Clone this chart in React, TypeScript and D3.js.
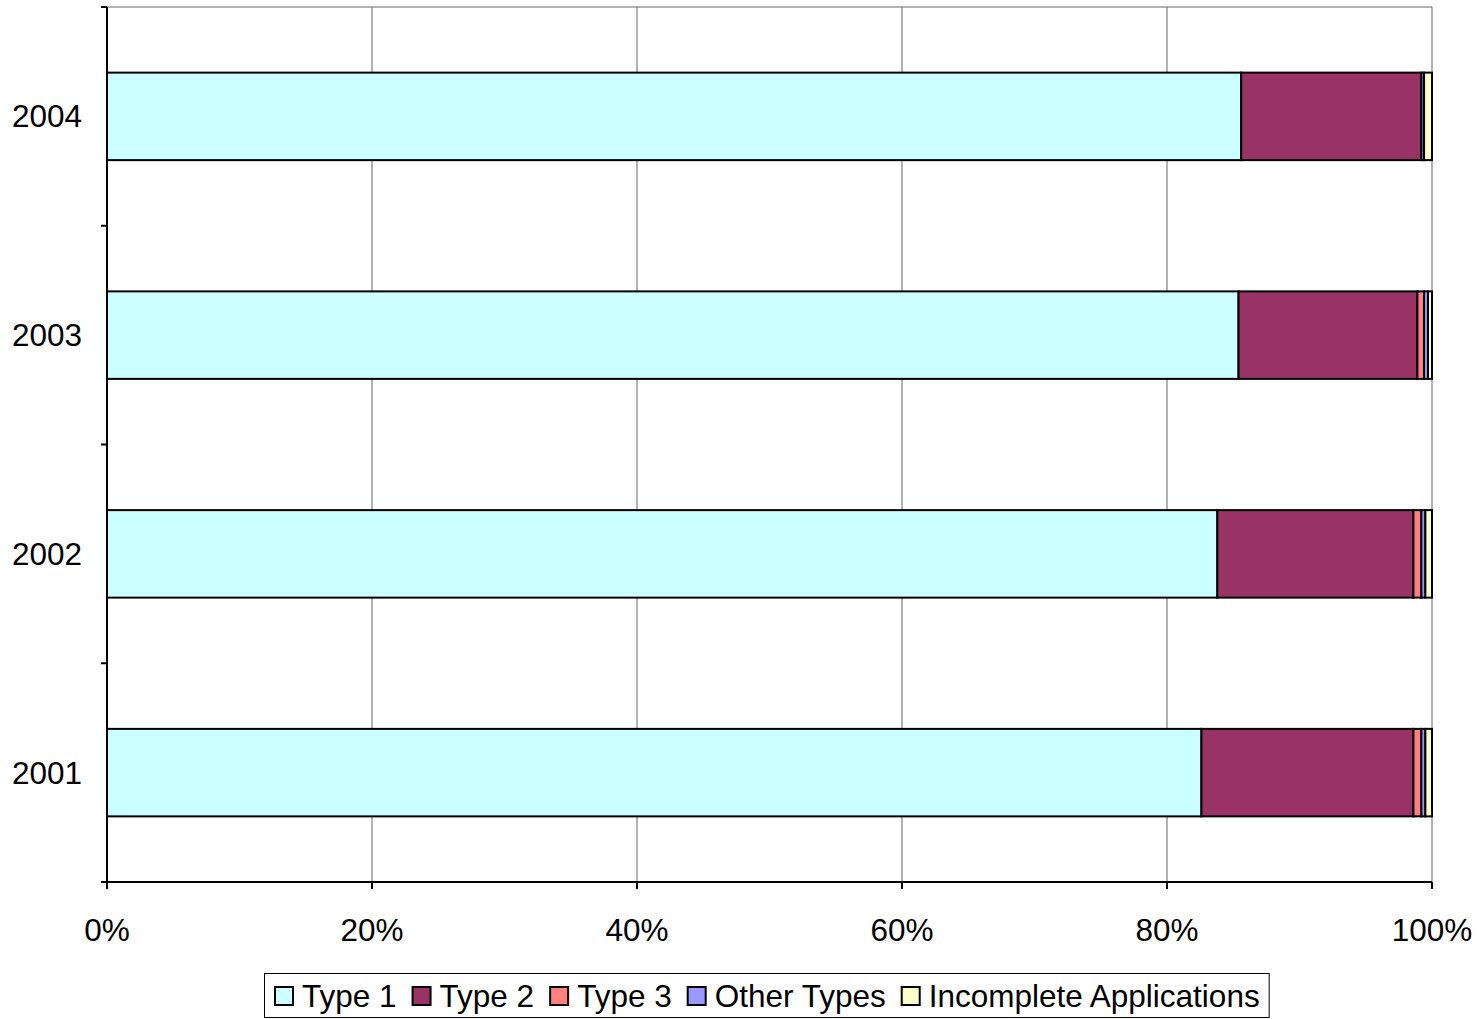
import React, { useEffect, useRef } from "react";
import * as d3 from "d3";

const years = ["2004", "2003", "2002", "2001"];
const seriesNames = ["Type 1", "Type 2", "Type 3", "Other Types", "Incomplete Applications"];
const seriesColors = ["#CCFFFF", "#993366", "#FF8080", "#9999FF", "#FFFFCC"];
const type1 = [85.6, 85.4, 83.8, 82.6];
const type2 = [13.6, 13.5, 14.8, 16.0];
const type3 = [0.0, 0.5, 0.6, 0.6];
const otherTypes = [0.2, 0.3, 0.3, 0.3];
const incomplete = [0.6, 0.3, 0.5, 0.5];
const xTicks = [0, 20, 40, 60, 80, 100];

const W = 1481, H = 1019;
const FONT = "Liberation Sans, Arial, sans-serif";
const FS = 31.5;

export default function App() {
  const ref = useRef<SVGSVGElement>(null);
  useEffect(() => {
    const svg = d3.select(ref.current);
    svg.selectAll("*").remove();
    const left = 107, right = 1432, top = 7, bottom = 882;
    const x = d3.scaleLinear().domain([0, 100]).range([left, right]);
    const y = d3.scaleBand().domain(years).range([top, bottom]).paddingInner(0.6).paddingOuter(0.3);
    const yOuter = d3.scaleBand().domain(years).range([top, bottom]);

    const all = [type1, type2, type3, otherTypes, incomplete];
    const rows = years.map((yr, i) => {
      const r: any = { year: yr };
      seriesNames.forEach((s, k) => (r[s] = all[k][i]));
      return r;
    });
    const stack = d3.stack().keys(seriesNames).offset(d3.stackOffsetExpand);
    const stacked = stack(rows);

    const g = svg.append("g");
    g.selectAll("line.grid").data(xTicks.slice(1)).enter().append("line")
      .attr("x1", d => x(d)).attr("x2", d => x(d)).attr("y1", top).attr("y2", bottom)
      .attr("stroke", "#666").attr("stroke-width", 1);
    g.append("line").attr("x1", left).attr("x2", right).attr("y1", top).attr("y2", top)
      .attr("stroke", "#666");

    stacked.forEach((layer, k) => {
      g.selectAll(null).data(layer).enter().append("rect")
        .attr("x", d => x(d[0] * 100))
        .attr("width", d => Math.max(0, x(d[1] * 100) - x(d[0] * 100)))
        .attr("y", (d: any) => y(d.data.year)!)
        .attr("height", y.bandwidth())
        .attr("fill", seriesColors[k])
        .attr("stroke", "#000").attr("stroke-width", 2);
    });

    g.append("line").attr("x1", left).attr("x2", left).attr("y1", top).attr("y2", bottom + 1)
      .attr("stroke", "#000").attr("stroke-width", 2);
    g.append("line").attr("x1", left).attr("x2", right).attr("y1", bottom).attr("y2", bottom)
      .attr("stroke", "#000").attr("stroke-width", 2);
    const yTickPos = [top, ...years.map(yr => yOuter(yr)! + yOuter.bandwidth())];
    g.selectAll(null).data(yTickPos).enter().append("line")
      .attr("x1", left - 6).attr("x2", left).attr("y1", d => d).attr("y2", d => d)
      .attr("stroke", "#000").attr("stroke-width", 2);
    g.selectAll(null).data(xTicks).enter().append("line")
      .attr("x1", d => x(d)).attr("x2", d => x(d)).attr("y1", bottom).attr("y2", bottom + 7)
      .attr("stroke", "#000").attr("stroke-width", 2);

    g.selectAll(null).data(years).enter().append("text")
      .attr("x", 82).attr("y", d => yOuter(d)! + yOuter.bandwidth() / 2)
      .attr("text-anchor", "end").attr("dominant-baseline", "central")
      .attr("font-family", FONT).attr("font-size", FS).text(d => d);
    g.selectAll(null).data(xTicks).enter().append("text")
      .attr("x", d => x(d)).attr("y", 930)
      .attr("text-anchor", "middle").attr("dominant-baseline", "central")
      .attr("font-family", FONT).attr("font-size", FS).text(d => d + "%");

    const lg = svg.append("g");
    const box = lg.append("rect").attr("fill", "#fff").attr("stroke", "#000").attr("stroke-width", 1);
    let cx = 275;
    const ly = 996;
    seriesNames.forEach((s, k) => {
      lg.append("rect").attr("x", cx).attr("y", ly - 9).attr("width", 18).attr("height", 18)
        .attr("fill", seriesColors[k]).attr("stroke", "#000").attr("stroke-width", 2);
      const t = lg.append("text").attr("x", cx + 27).attr("y", ly).attr("dominant-baseline", "central")
        .attr("font-family", FONT).attr("font-size", FS).text(s);
      const w = (t.node() as SVGTextElement).getComputedTextLength();
      cx = cx + 27 + w + (k < seriesNames.length - 1 ? 16 : 9);
    });
    box.attr("x", 264.5).attr("y", 973.5).attr("width", cx - 264).attr("height", 44);
  }, []);
  return (
    <svg ref={ref} width={W} height={H} style={{ position: "absolute", left: 0, top: 0, background: "#fff" }} />
  );
}
